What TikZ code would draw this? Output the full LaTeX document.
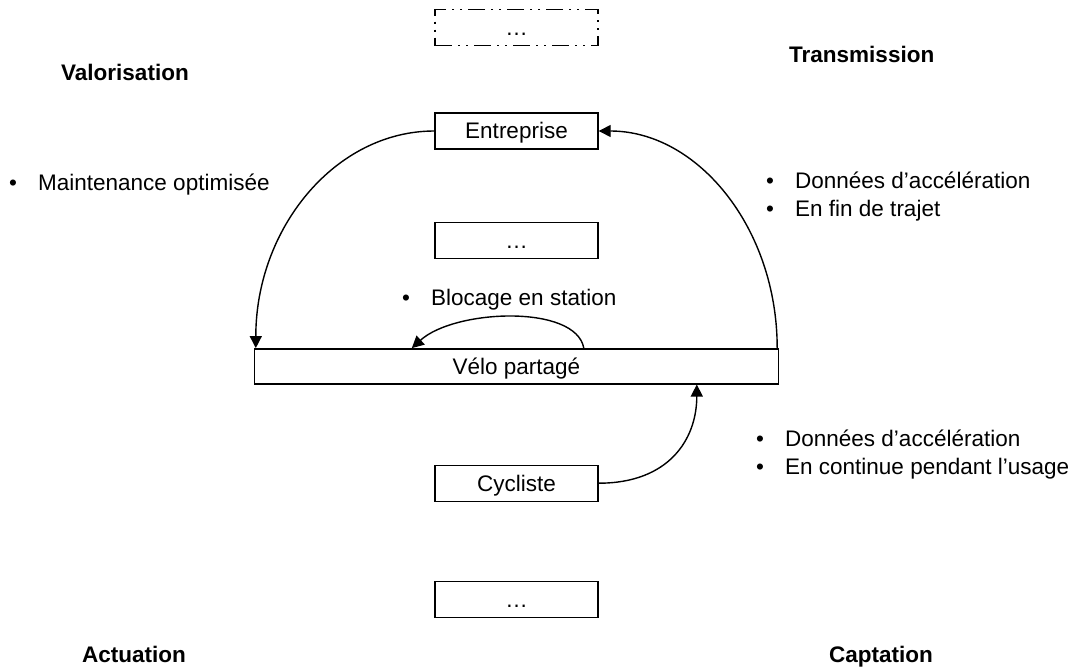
\documentclass[tikz,border=0pt]{standalone}
\usepackage{fontspec}
\setmainfont{Liberation Sans}
\usetikzlibrary{arrows.meta,positioning}
\newcommand{\puce}[1]{\makebox[29pt][l]{\textbullet}#1}

\begin{document}
\begin{tikzpicture}[x=1pt, y=-1pt,
  box/.style   = {draw, line width=1.4pt, minimum width=163pt, minimum height=36pt,
                  inner sep=0pt, text height=16pt, text depth=0pt,
                  font=\fontsize{22.5}{27}\selectfont},
  ghost/.style = {box, dash pattern=on 17pt off 6pt on 2pt off 6pt on 2pt off 6pt},
  arr/.style   = {-{Triangle[length=12pt,width=12pt]}, line width=1.4pt},
  lab/.style   = {anchor=base west, align=left, inner sep=0pt,
                  font=\fontsize{22.5}{28}\selectfont},
  band/.style  = {anchor=base west, inner sep=0pt,
                  font=\fontsize{22.5}{27}\selectfont\bfseries}
]
\useasboundingbox (0,0) rectangle (1080,669);

%% ---- column of boxes ----------------------------------------------
\node[box] (entreprise) at (516.5,131) {Entreprise};
\node[ghost, above=66pt of entreprise] (haut) {…};
\node[box, below=72pt of entreprise] (milieu) {…};
\node[box, below=89pt of milieu, minimum width=524pt, minimum height=35pt] (velo) {Vélo partagé};
\node[box, below=80pt of velo] (cycliste) {Cycliste};
\node[box, below=79pt of cycliste] (bas) {…};

%% ---- arcs ---------------------------------------------------------
\draw[arr] (entreprise.west) .. controls +(-99,0) and +(0,-120) .. ([xshift=2pt]velo.north west);
\draw[arr] ([xshift=-2pt]velo.north east) .. controls +(0,-120) and +(99,0) .. (entreprise.east);
\draw[arr] ([xshift=330pt]velo.north west) .. controls +(-8,-44) and +(43,-39) .. ([xshift=158pt]velo.north west);
\draw[arr] (cycliste.east) .. controls +(70,0) and +(0,55) .. ([xshift=443pt]velo.south west);

%% ---- labels -------------------------------------------------------
\node[band] (valo) at (61,81) {Valorisation};
\node[band] (trans) at (789,63) {Transmission};
\node[band] (actu) at (82,662) {Actuation};
\node[band] (capt) at (829,662) {Captation};

% base of a two-line label is its last line
\node[lab] (maint) at (9,190) {\puce{Maintenance optimisée}};
\node[lab] (envoi) at (766,216) {\puce{Données d’accélération}\\\puce{En fin de trajet}};
\node[lab] (bloc) at (402,305) {\puce{Blocage en station}};
\node[lab] (capteur) at (756,474) {\puce{Données d’accélération}\\\puce{En continue pendant l’usage}};
\end{tikzpicture}
\end{document}
